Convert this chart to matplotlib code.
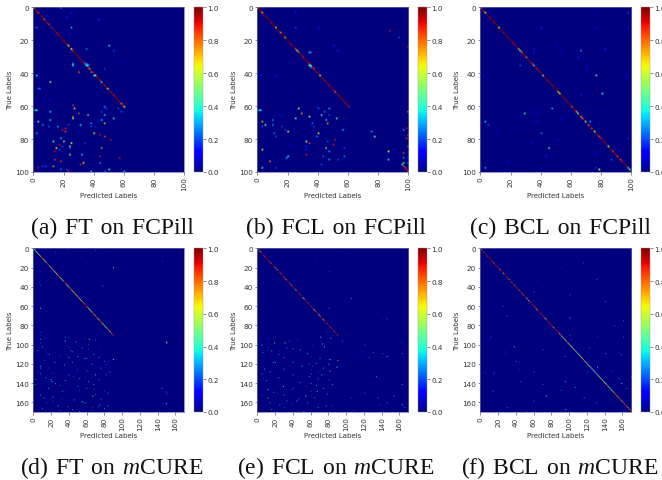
import numpy as np
import matplotlib
matplotlib.use('Agg')
import matplotlib.pyplot as plt

plt.rcParams['font.family'] = ['DejaVu Sans']
plt.rcParams['mathtext.fontset'] = 'custom'
plt.rcParams['mathtext.it'] = 'Liberation Serif:italic'
plt.rcParams['mathtext.rm'] = 'Liberation Serif'

W, H = 662, 481

# class counts and tick labels
n_pill = 100
n_cure = 170
ticks_pill = [0, 20, 40, 60, 80, 100]
ticks_cure = [0, 20, 40, 60, 80, 100, 120, 140, 160]
cbar_ticks = [0.0, 0.2, 0.4, 0.6, 0.8, 1.0]

captions = ['(a)\u200a FT\u200a on\u200a FCPill', '(b)\u200a FCL\u200a on\u200a FCPill',
            '(c)\u200a BCL\u200a on\u200a FCPill', '(d)\u200a FT\u200a on\u200a $m$CURE',
            '(e)\u200a FCL\u200a on\u200a $m$CURE', '(f)\u200a BCL\u200a on\u200a $m$CURE']

# diagonal values
diag_a = [.7, 1, .9, .85, 1, 1, .95, .8, 1, .95,
          .85, 1, .7, 1, 1, .95, .9, 1, 1, 1,
          .95, 1, .9, .6, 1, .65, .9, 1, 1, 1,
          .95, 1, 1, .9, .5, .4, .9, .75, 1, .9,
          1, .5, .95, 1, .9, .5, 1, .95, 1, .6,
          1, .95, 1, .9, 1, 1, .95, 1, .8, .9, .65]
diag_b = [.8, 1, .9, .7, 1, 1, .95, 1, 1, .95,
          1, 1, .65, 1, 1, .8, 1, 1, .75, 1,
          1, 1, .9, 1, 1, .8, .55, .8, 1, .95,
          .9, 1, 1, .95, .85, .4, .9, .85, 1, .95,
          1, .55, 1, 1, .95, 1, 1, .95, 1, 1,
          .95, .8, 1, .95, 1, 1, .95, 1, .95, 1, .9]
diag_b_tail = {97: .85, 98: .9, 99: .85}
diag_c = [.8, 1, .9, .6, 1, 1, .95, 1, 1, .95,
          1, 1, .6, 1, 1, .95, 1, 1, 1, 1,
          1, .95, .9, 1, 1, .7, .45, .8, 1, .95,
          .8, 1, 1, .95, .85, .4, .95, .9, 1, .95,
          1, .5, 1, 1, .95, 1, 1, .95, 1, 1,
          .95, .65, .7, 1, 1, 1, .95, 1, 1, 1,
          .8, 1, .95, .75, .5, 1, .75, .8, .95, .45,
          1, .8, 1, .85, 1, .55, 1, .95, .85, .9,
          1, .95, 1, 1, .5, 1, .95, .85, 1, .95,
          .85, 1, .85, .9, 1, 1, .95, .4, .5, .9]
diag_d = [.3, .5, .45, .5, .6, .7, .5, .6, .7, .8,
          .85, .7, .6, .5, .55, .75, .9, .85, .7, .6,
          .45, .7, .85, .7, .6, .55, .65, .7, .8, .85,
          .75, .65, .55, .6, .8, .9, .85, .7, .65, .55,
          .6, .8, .85, .7, .55, .65, .7, .8, .6, .55,
          .7, .8, .65, .55, .7, .75, .85, .8, .9, .95,
          .85, .75, .6, .65, .55, .5, .7, .85, .8, .65,
          .8, .85, .75, .6, .7, .8, .85, .75, .7, .6,
          .55, .5, .6, .7, .8, .75, .65, .8, .85, .9, .85]
diag_e = [.6, .8, .9, .55, .85, .95, 1, .9, .85, .95,
          1, .95, .9, .85, .95, .75, .9, 1, .95, .85,
          .7, .9, .5, .95, 1, .9, .85, .95, 1, .9,
          .85, .95, .65, .9, 1, .95, .85, .95, .7, .9,
          1, .95, .85, .6, .9, 1, .95, .85, .95, .9,
          1, .7, .55, .9, .95, 1, .85, .9, .95, 1,
          .85, .95, .9, .75, .7, .8, .9, .95, .85, .7,
          .75, .9, .95, .85, .65, .9, 1, .95, .85, .95,
          1, .9, .85, .95, 1, .9, .85, .95, 1, .9, .85]
diag_f = [.5, .8, .9, .95, .85, 1, .9, .95, .85, 1,
          .9, .95, 1, .85, .95, .75, 1, .9, .95, .85,
          1, .9, .7, .95, 1, .85, .7, .9, 1, .95,
          .85, .95, .7, 1, .9, .85, .95, 1, .75, .9,
          .95, .85, 1, .7, .9, .95, .85, .9, .75, .95,
          1, .85, .6, .9, .7, .95, .85, 1, .9, .95,
          .85, .9, .8, .7, .85, .95, 1, .85, .9, .95,
          .85, .9, .75, .6, .85, .95, .9, .85, 1, .9,
          .95, .85, .7, .9, 1, .85, .95, .9, .8, .6,
          .85, .7, .45, .6, .8, .65, .7, .85, .5, .6,
          .7, .65, .55, .7, .6, .45, .7, .5, .4, .55,
          .6, .65, .7, .65, .55, .75, .8, .6, .55, .45,
          .5, .55, .6, .5, .45, .4, .5, .55, .5, .35,
          .4, .5, .55, .6, .7, .5, .55, .45, .6, .65,
          .6, .7, .8, .5, .6, .55, .45, .55, .6, .7,
          .75, .8, .85, .7, .8, .75, .85, .8, .7, .75,
          .85, .8, .9, .85, .75, .7, .85, .8, .85, .9]

# off-diagonal cells as (row, col, value)
cells_a = [(0, 18, .3), (3, 25, .15), (6, 22, .15), (7, 43, .15), (12, 2, .25), (12, 25, .3),
           (12, 12, .2), (5, 9, .15), (16, 24, .15), (23, 50, .4), (25, 35, .25), (26, 53, .2),
           (34, 26, .4), (35, 26, .35), (34, 34, .3), (34, 35, .3), (35, 36, .35), (33, 59, .1),
           (39, 30, .8), (37, 47, .2), (39, 38, .25), (41, 40, .35), (41, 2, .35), (45, 11, .55),
           (45, 45, .4), (49, 4, .25), (49, 3, .2), (58, 6, .1), (56, 10, .1), (59, 26, .85),
           (61, 27, .7), (64, 30, .85), (62, 1, .35), (62, 2, .45), (63, 11, .35), (60, 47, .3),
           (61, 48, .2), (63, 45, .2), (65, 36, .5), (65, 47, .35), (66, 26, .8), (67, 26, .6),
           (67, 53, .4), (68, 45, .35), (68, 11, .35), (69, 3, .5), (70, 38, .3), (70, 47, .7),
           (71, 6, .3), (71, 23, .2), (71, 31, .35), (72, 10, .2), (72, 16, .3), (72, 38, .2),
           (72, 41, .15), (73, 21, .9), (74, 19, .9), (75, 21, .85), (76, 2, .3), (76, 40, .65),
           (77, 44, .9), (78, 47, .85), (79, 18, .35), (80, 51, .9), (81, 13, .4), (81, 20, .55),
           (82, 25, .6), (82, 34, .2), (83, 17, .9), (84, 19, .2), (84, 24, .65), (85, 15, .65),
           (85, 45, .75), (85, 24, .2), (87, 14, .9), (86, 17, .2), (89, 24, .6), (89, 32, .35),
           (90, 44, .9), (91, 57, .9), (92, 14, .85), (93, 18, .85), (94, 33, .65), (95, 31, .9),
           (94, 44, .3), (96, 13, .75), (96, 6, .2), (96, 8, .2), (97, 3, .9), (98, 18, .25),
           (98, 22, .2), (99, 23, .9), (98, 50, .4), (99, 38, .3), (99, 47, .2), (99, 60, .3),
           (61, 56, .2), (63, 58, .2), (69, 43, .15), (75, 30, .1), (88, 20, .1), (83, 30, .1)]
cells_b = [(14, 87, .9), (18, 93, .2), (24, 99, .9), (3, 25, .15), (12, 25, .2), (12, 40, .15),
           (23, 50, .15), (26, 53, .15), (27, 34, .3), (27, 35, .25), (35, 34, .4), (36, 35, .3),
           (41, 12, .15), (41, 2, .15), (52, 20, .1), (61, 27, .55), (62, 1, .4), (62, 2, .35),
           (61, 40, .2), (61, 47, .3), (63, 44, .25), (63, 99, .7), (64, 29, .75), (65, 42, .45),
           (65, 47, .2), (66, 34, .5), (66, 16, .1), (67, 25, .5), (67, 52, .45), (68, 10, .3),
           (68, 45, .35), (69, 3, .7), (70, 36, .25), (70, 46, .75), (71, 5, .55), (71, 10, .3),
           (72, 3, .2), (72, 37, .2), (72, 16, .2), (74, 18, .2), (74, 56, .35), (75, 20, .65),
           (75, 75, .3), (76, 11, .25), (76, 40, .65), (78, 12, .2), (78, 39, .25), (78, 77, .5),
           (73, 98, .9), (74, 96, .3), (77, 99, .85), (79, 98, .85), (80, 51, .9), (81, 32, .5),
           (81, 46, .2), (82, 34, .85), (83, 50, .9), (84, 99, .8), (85, 45, .55), (85, 57, .2),
           (86, 3, .65), (87, 47, .3), (87, 86, .6), (88, 96, .85), (89, 32, .9), (90, 20, .4),
           (91, 19, .3), (90, 43, .25), (90, 57, .25), (91, 96, .3), (92, 47, .3), (92, 53, .2),
           (92, 86, .35), (93, 8, .75), (94, 96, .5), (94, 99, .25), (95, 42, .2), (95, 95, .4),
           (96, 96, .85), (97, 3, .4), (97, 12, .2), (84, 32, .15), (86, 32, .15), (60, 39, .15),
           (83, 21, .1), (65, 15, .1), (91, 99, .2), (86, 89, .15)]
cells_c = [(3, 97, .2), (12, 40, .15), (25, 35, .15), (27, 35, .15), (26, 66, .3), (25, 82, .15),
           (23, 50, .1), (26, 53, .1), (30, 64, .15), (35, 26, .2), (34, 59, .1), (38, 70, .1),
           (41, 76, .4), (41, 96, .1), (52, 80, .4), (53, 66, .15), (61, 47, .3), (64, 29, .4),
           (69, 3, .35), (71, 5, .2), (69, 72, .3), (76, 40, .25), (76, 11, .1), (73, 23, .1),
           (85, 45, .45), (90, 43, .15), (92, 86, .2), (93, 18, .1), (97, 3, .3), (97, 76, .2),
           (98, 78, .65), (97, 40, .1), (79, 97, .15), (63, 38, .1), (87, 91, .1), (12, 76, .1),
           (3, 76, .1), (12, 97, .1), (67, 53, .1), (66, 26, .1), (69, 37, .1), (80, 51, .1),
           (64, 35, .1), (41, 2, .1), (88, 76, .1), (63, 76, .1), (82, 34, .1), (35, 70, .1)]
cells_d = [(20, 90, .5), (39, 78, .3), (13, 145, .2), (62, 8, .7), (97, 150, .55), (98, 150, .5),
           (145, 145, .3), (149, 150, .2), (151, 150, .9), (161, 150, .55), (94, 63, .7), (93, 58, .2),
           (92, 36, .25), (92, 40, .25), (93, 13, .2), (96, 36, .4), (115, 90, .45), (122, 8, .3),
           (124, 8, .3), (136, 20, .3), (138, 21, .4), (145, 17, .3), (164, 39, .85), (165, 67, .9),
           (153, 67, .6), (159, 55, .6), (163, 84, .3), (131, 70, .4), (106, 42, .3), (113, 40, .3),
           (131, 82, .3), (4, 25, .2), (6, 25, .15), (1, 38, .2), (2, 70, .2), (15, 60, .15),
           (5, 85, .15), (24, 8, .2), (38, 8, .2), (54, 22, .15), (65, 15, .15), (74, 38, .15),
           (87, 8, .2), (90, 8, .15), (98, 8, .2), (101, 38, .2), (103, 40, .2), (107, 44, .25),
           (100, 62, .25), (104, 62, .2), (109, 15, .2), (112, 30, .2), (116, 12, .2), (114, 58, .3),
           (114, 60, .25), (118, 85, .2), (117, 80, .25), (120, 82, .2), (125, 50, .2), (128, 5, .2),
           (130, 8, .25), (129, 22, .2), (133, 45, .2), (136, 3, .25), (138, 62, .3), (141, 2, .25),
           (142, 30, .2), (147, 52, .2), (148, 80, .2), (146, 68, .2), (152, 8, .3), (155, 12, .3),
           (156, 32, .2), (158, 22, .2), (160, 15, .2), (162, 75, .3), (164, 73, .25), (166, 80, .3),
           (168, 30, .2), (169, 52, .3), (168, 65, .2), (110, 3, .15), (95, 70, .2), (105, 75, .15),
           (122, 70, .15), (127, 48, .15), (134, 58, .2), (108, 25, .15), (100, 20, .15), (150, 40, .15),
           (142, 42, .15), (126, 35, .15), (119, 28, .15), (115, 146, .1), (56, 146, .1), (34, 150, .1)]
cells_e = [(13, 133, .15), (52, 105, .3), (24, 81, .2), (62, 80, .3), (67, 133, .15), (73, 145, .25),
           (73, 153, .1), (92, 71, .45), (93, 13, .2), (93, 82, .35), (96, 95, .3), (98, 31, .5),
           (98, 19, .4), (99, 73, .4), (102, 75, .5), (103, 33, .3), (104, 40, .3), (96, 36, .25),
           (108, 6, .3), (112, 145, .4), (109, 140, .25), (115, 81, .45), (116, 90, .7), (118, 18, .35),
           (118, 20, .3), (120, 80, .35), (123, 89, .4), (125, 8, .3), (127, 81, .4), (130, 5, .25),
           (133, 133, .35), (131, 72, .35), (133, 58, .3), (136, 80, .25), (140, 60, .25), (141, 162, .3),
           (143, 29, .55), (146, 12, .4), (147, 38, .3), (148, 67, .35), (148, 60, .25), (153, 54, .4),
           (155, 12, .7), (156, 46, .25), (158, 33, .3), (160, 56, .3), (160, 14, .3), (162, 162, .4),
           (163, 77, .3), (163, 83, .2), (165, 165, .3), (168, 108, .2), (169, 52, .3), (153, 153, .8),
           (4, 90, .1), (15, 65, .15), (36, 76, .15), (61, 15, .15), (70, 6, .15), (97, 162, .2),
           (109, 162, .25), (112, 108, .15), (115, 118, .15), (162, 138, .2), (163, 156, .15), (155, 105, .2),
           (165, 30, .2), (161, 38, .2), (150, 22, .15), (138, 45, .15), (128, 68, .2), (112, 60, .15),
           (107, 25, .2), (103, 12, .2), (120, 58, .25), (122, 62, .2), (126, 60, .2), (143, 55, .15),
           (145, 40, .3), (147, 38, .2), (152, 5, .2), (99, 55, .15), (101, 62, .2), (95, 45, .2)]
cells_f = [(20, 90, .15), (34, 63, .15), (72, 100, .35), (102, 38, .45), (109, 28, .2), (106, 27, .15),
           (44, 169, .3), (52, 169, .2), (78, 130, .1), (87, 150, .15), (91, 131, .2), (92, 160, .25),
           (103, 122, .25), (109, 140, .3), (108, 155, .15), (110, 158, .25), (112, 125, .15), (123, 131, .5),
           (127, 148, .2), (129, 5, .2), (128, 15, .2), (118, 44, .2), (126, 44, .2), (133, 169, .4),
           (138, 95, .35), (140, 158, .35), (144, 106, .3), (145, 164, .3), (148, 14, .25), (153, 74, .4),
           (155, 116, .3), (167, 95, .35), (169, 52, .2), (65, 15, .15), (74, 45, .1), (39, 110, .15),
           (29, 145, .1), (10, 100, .1), (6, 150, .1), (82, 135, .1), (95, 10, .15), (115, 68, .15),
           (122, 125, .15), (135, 30, .1), (142, 60, .15), (160, 30, .1), (165, 120, .1), (150, 135, .15),
           (98, 60, .1), (100, 85, .1), (118, 162, .1), (60, 130, .1), (50, 20, .1), (25, 100, .1)]

# the fainter speckle in the lower left of the mCURE panels
speck_d = [(94, 8, .3), (102, 10, .3), (106, 5, .25), (110, 18, .3), (118, 24, .3), (121, 35, .3),
           (124, 18, .25), (127, 60, .3), (131, 40, .3), (134, 14, .3), (137, 36, .3), (140, 25, .3),
           (143, 50, .3), (145, 60, .3), (148, 33, .3), (151, 70, .3), (154, 22, .3), (157, 46, .3),
           (160, 58, .3), (163, 28, .3), (166, 10, .3), (167, 44, .3), (97, 48, .3), (103, 55, .3),
           (110, 68, .3), (113, 74, .3), (120, 66, .3), (124, 76, .3), (128, 86, .3), (136, 74, .3),
           (141, 68, .3), (150, 84, .3), (156, 76, .3), (112, 50, .3), (118, 44, .3), (135, 52, .3)]
speck_e = [(100, 5, .3), (106, 16, .3), (110, 24, .3), (113, 30, .3), (118, 40, .3), (122, 50, .3),
           (125, 30, .3), (128, 14, .3), (131, 40, .3), (134, 24, .3), (137, 10, .3), (139, 48, .3),
           (142, 66, .3), (145, 74, .3), (149, 18, .3), (152, 30, .3), (155, 64, .3), (158, 44, .3),
           (162, 25, .3), (165, 68, .3), (167, 16, .3), (105, 48, .3), (109, 56, .3), (114, 70, .3),
           (119, 66, .3), (124, 74, .3), (130, 60, .3), (135, 68, .3), (141, 84, .3), (151, 78, .3),
           (100, 120, .25), (108, 130, .25), (113, 125, .25), (150, 120, .25), (155, 135, .25), (160, 145, .25)]
speck_f = [(130, 15, .25), (117, 40, .25), (138, 45, .25), (141, 70, .25), (92, 12, .25), (70, 30, .25),
           (45, 60, .25), (15, 115, .25), (32, 130, .25), (55, 140, .25), (80, 150, .25), (90, 100, .25),
           (112, 95, .25), (128, 60, .25), (147, 90, .25), (158, 60, .25), (165, 30, .25), (160, 130, .25),
           (60, 25, .25), (105, 70, .25), (128, 120, .25), (135, 155, .25), (48, 100, .25), (75, 160, .25)]

panels = [(n_pill, ticks_pill, diag_a, cells_a), (n_pill, ticks_pill, diag_b, cells_b),
          (n_pill, ticks_pill, diag_c, cells_c), (n_cure, ticks_cure, diag_d, cells_d + speck_d),
          (n_cure, ticks_cure, diag_e, cells_e + speck_e), (n_cure, ticks_cure, diag_f, cells_f + speck_f)]

# pixel positions of each column and row of panels
left_px = [33.3, 257.3, 480.3]
axes_w = 151.0
cbar_gap = 10.0
cbar_w = 8.5
top_px = [8.3, 249.3]
bottom_px = [173.0, 413.0]
caption_x = [112, 336, 560]
caption_y = [228, 468]

fig = plt.figure(figsize=(W / 100, H / 100), dpi=100)

for i, (n, ticks, diag, cells) in enumerate(panels):
    col = i % 3
    row = i // 3
    mat = np.zeros((n, n))
    for k, v in enumerate(diag):
        mat[k, k] = v
    if i == 1:
        for k, v in diag_b_tail.items():
            mat[k, k] = v
    for r, c, v in cells:
        mat[r, c] = v

    y0 = 1 - bottom_px[row] / H
    h = (bottom_px[row] - top_px[row]) / H
    ax = fig.add_axes([left_px[col] / W, y0, axes_w / W, h])
    im = ax.imshow(mat, cmap='jet', vmin=0, vmax=1, aspect='auto', extent=[0, n, n, 0],
                   interpolation='bilinear', interpolation_stage='rgba', resample=True)
    ax.set_xticks(ticks)
    ax.set_yticks(ticks)
    ax.set_xticklabels(ticks, rotation=90)
    ax.tick_params(labelsize=5.2, length=1.8, width=0.4, pad=1.5, colors='#333333')
    ax.set_xlabel('Predicted Labels', fontsize=5.0, color='#333333', labelpad=1)
    ax.set_ylabel('True Labels', fontsize=5.0, color='#333333', labelpad=1)
    for s in ax.spines.values():
        s.set_color('#6a6ab8')
        s.set_linewidth(0.5)

    cax = fig.add_axes([(left_px[col] + axes_w + cbar_gap) / W, y0, cbar_w / W, h])
    cb = fig.colorbar(im, cax=cax, ticks=cbar_ticks)
    cb.ax.tick_params(labelsize=5.2, length=1.8, width=0.4, pad=1.5, colors='#333333')
    cb.outline.set_linewidth(0.3)
    cb.outline.set_edgecolor('#999999')

    fig.text(caption_x[col] / W, 1 - caption_y[row] / H, captions[i], ha='center', va='center',
             fontsize=17.0, family='Liberation Serif', color='#111111')

fig.savefig('out.png', dpi=100)
